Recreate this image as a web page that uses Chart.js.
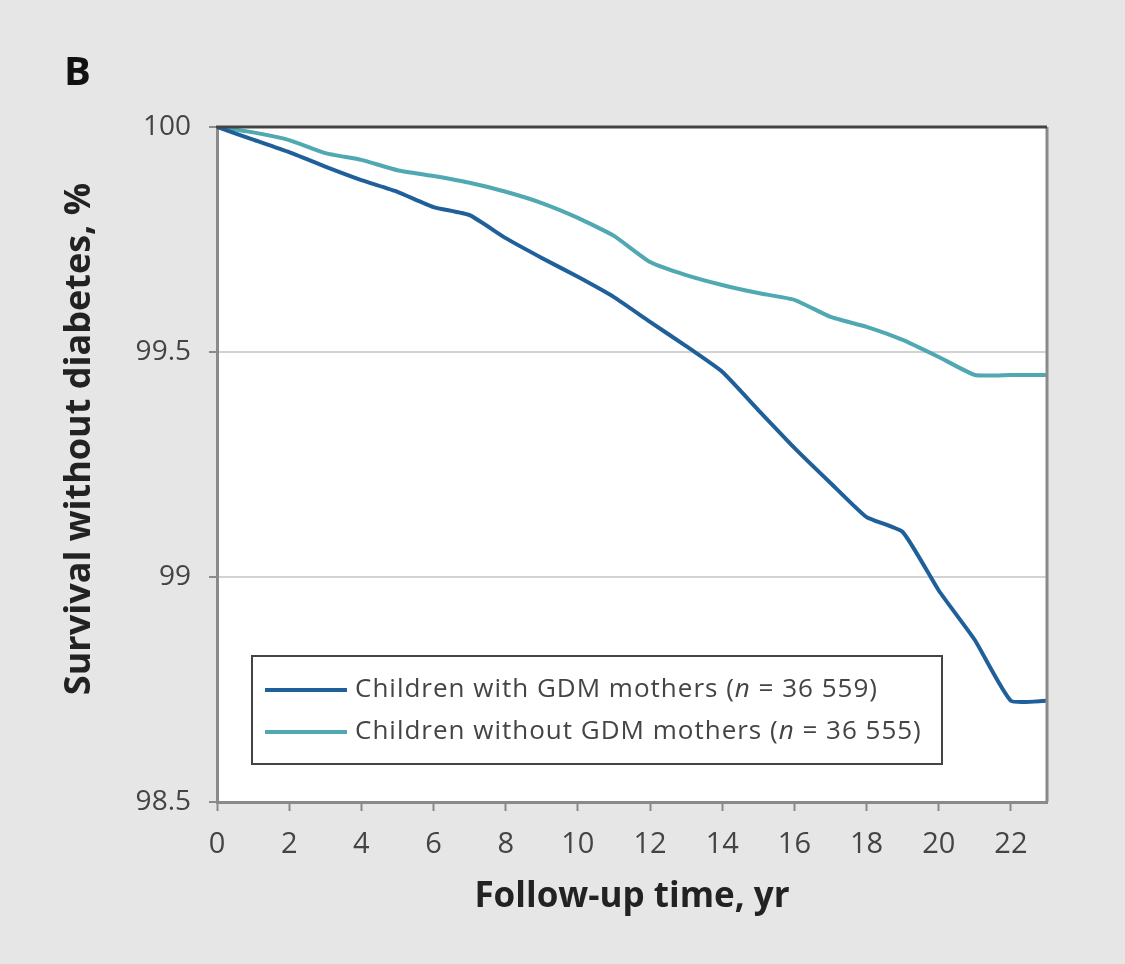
<!DOCTYPE html>
<html>
<head>
<meta charset="utf-8">
<script src="https://cdn.jsdelivr.net/npm/chart.js@4.4.0/dist/chart.umd.min.js"></script>
<style>
  html, body { margin: 0; padding: 0; background: #e6e6e6; overflow: hidden; }
  #wrap { width: 1125px; height: 964px; position: relative; }
</style>
</head>
<body>
<div id="wrap"><canvas id="chart" width="1125" height="964"></canvas></div>
<script>
// follow-up years
const years = [0, 1, 2, 3, 4, 5, 6, 7, 8, 9, 10, 11, 12, 13, 14, 15, 16, 17, 18, 19, 20, 21, 22, 23];
// survival without diabetes, %
const withGdm = [100, 99.972, 99.944, 99.912, 99.882, 99.856, 99.822, 99.804, 99.753, 99.709, 99.667, 99.622,
  99.567, 99.513, 99.456, 99.371, 99.287, 99.209, 99.133, 99.1, 98.97, 98.86, 98.725, 98.725];
const withoutGdm = [100, 99.988, 99.971, 99.942, 99.927, 99.904, 99.891, 99.876, 99.856, 99.831, 99.798, 99.758,
  99.7, 99.671, 99.649, 99.631, 99.616, 99.578, 99.556, 99.527, 99.489, 99.449, 99.449, 99.449];
const seriesLabels = [
  ['Children with GDM mothers (', 'n', ' = 36 559)'],
  ['Children without GDM mothers (', 'n', ' = 36 555)']
];
const xTicks = [0, 2, 4, 6, 8, 10, 12, 14, 16, 18, 20, 22];
const yTicks = [98.5, 99, 99.5, 100];

const DARK = '#20609a';
const LIGHT = '#4fa8b2';
const FONT = '"Open Sans", "Noto Sans", sans-serif';

const decor = {
  id: 'decor',
  beforeDraw(chart) {
    const { ctx, chartArea: a } = chart;
    ctx.save();
    ctx.fillStyle = '#e6e6e6';
    ctx.fillRect(0, 0, chart.width, chart.height);
    ctx.fillStyle = '#ffffff';
    ctx.fillRect(a.left, a.top, a.right - a.left, a.bottom - a.top);
    ctx.restore();
  },
  afterDraw(chart) {
    const { ctx, chartArea: a } = chart;
    ctx.save();
    // right and top frame
    ctx.strokeStyle = '#8a8a8a';
    ctx.lineWidth = 3;
    ctx.beginPath();
    ctx.moveTo(a.right, a.top);
    ctx.lineTo(a.right, a.bottom);
    ctx.stroke();
    ctx.strokeStyle = '#444';
    ctx.beginPath();
    ctx.moveTo(a.left - 1, a.top);
    ctx.lineTo(a.right, a.top);
    ctx.stroke();

    // panel letter
    ctx.fillStyle = '#111';
    ctx.font = 'bold 40px ' + FONT;
    ctx.textAlign = 'left';
    ctx.textBaseline = 'middle';
    ctx.fillText('B', 64, 74);

    // y title
    ctx.save();
    ctx.translate(80, 439);
    ctx.rotate(-Math.PI / 2);
    ctx.textAlign = 'center';
    ctx.font = 'bold 36px ' + FONT;
    ctx.fillStyle = '#222';
    ctx.fillText('Survival without diabetes, %', 0, 0);
    ctx.restore();

    // legend
    const bx = 252, by = 656, bw = 690, bh = 108;
    ctx.fillStyle = '#fff';
    ctx.fillRect(bx, by, bw, bh);
    ctx.strokeStyle = '#444';
    ctx.lineWidth = 2;
    ctx.strokeRect(bx, by, bw, bh);
    chart.data.datasets.forEach((ds, i) => {
      const y = 690 + i * 42;
      ctx.strokeStyle = ds.borderColor;
      ctx.lineWidth = 4;
      ctx.beginPath();
      ctx.moveTo(265, y);
      ctx.lineTo(347, y);
      ctx.stroke();
      let x = 355;
      ctx.fillStyle = '#444';
      ctx.textAlign = 'left';
      ctx.textBaseline = 'middle';
      ctx.letterSpacing = '1px';
      seriesLabels[i].forEach((part, j) => {
        ctx.font = (j === 1 ? 'italic ' : '') + '26px ' + FONT;
        ctx.fillText(part, x, y);
        x += ctx.measureText(part).width;
      });
      ctx.letterSpacing = '0px';
    });
    ctx.restore();
  }
};

new Chart(document.getElementById('chart'), {
  type: 'line',
  data: {
    labels: years,
    datasets: [
      {
        label: seriesLabels[0].join(''),
        data: years.map((x, i) => ({ x, y: withGdm[i] })),
        borderColor: DARK,
        borderWidth: 4,
        pointRadius: 0,
        tension: 0.15
      },
      {
        label: seriesLabels[1].join(''),
        data: years.map((x, i) => ({ x, y: withoutGdm[i] })),
        borderColor: LIGHT,
        borderWidth: 4,
        pointRadius: 0,
        tension: 0.15
      }
    ]
  },
  options: {
    responsive: false,
    animation: false,
    devicePixelRatio: 1,
    layout: { padding: { left: 100, right: 78, top: 127, bottom: 0 } },
    plugins: { legend: { display: false }, tooltip: { enabled: false } },
    scales: {
      x: {
        type: 'linear',
        min: 0,
        max: 23,
        afterBuildTicks: (s) => { s.ticks = xTicks.map(v => ({ value: v })); },
        afterFit: (s) => { s.height = 162; },
        ticks: { color: '#444', font: { family: FONT, size: 29 }, padding: 16, maxRotation: 0 },
        grid: { drawOnChartArea: false, tickLength: 9, tickColor: '#8a8a8a', tickWidth: 2 },
        border: { color: '#8a8a8a', width: 3 },
        title: {
          display: true,
          text: 'Follow-up time, yr',
          color: '#222',
          font: { family: FONT, size: 35, weight: 'bold' },
          padding: { bottom: 46 }
        }
      },
      y: {
        min: 98.5,
        max: 100,
        afterBuildTicks: (s) => { s.ticks = yTicks.map(v => ({ value: v })); },
        afterFit: (s) => { s.width = 117; },
        ticks: {
          color: '#444',
          font: { family: FONT, size: 28 },
          padding: 18,
          callback: (v) => String(v)
        },
        grid: {
          color: (c) => (c.tick && (c.tick.value === 99 || c.tick.value === 99.5)) ? '#d2d2d2' : 'rgba(0,0,0,0)',
          lineWidth: 2,
          tickLength: 8,
          tickColor: '#8a8a8a',
          tickWidth: 2
        },
        border: { color: '#8a8a8a', width: 3 }
      }
    }
  },
  plugins: [decor]
});
</script>
</body>
</html>
